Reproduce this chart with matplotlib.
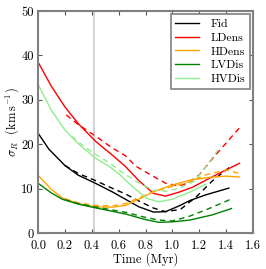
import matplotlib
matplotlib.use('Agg')
import matplotlib.pyplot as plt

plt.rcParams['font.family'] = 'serif'
plt.rcParams['font.serif'] = ['cmr10', 'DejaVu Serif']
plt.rcParams['mathtext.fontset'] = 'cm'
plt.rcParams['axes.unicode_minus'] = False
plt.rcParams['axes.formatter.use_mathtext'] = True

# solid runs
t_fid = [0.0, 0.08, 0.2, 0.3, 0.42, 0.55, 0.65, 0.75, 0.86, 0.95, 1.05, 1.13, 1.25, 1.42]
s_fid = [22.5, 18.9, 15.2, 13.0, 11.3, 9.3, 7.6, 5.9, 4.7, 4.8, 6.1, 7.3, 8.6, 10.1]
t_ld = [0.0, 0.1, 0.2, 0.3, 0.43, 0.55, 0.65, 0.75, 0.86, 0.95, 1.05, 1.15, 1.3, 1.5]
s_ld = [38.5, 33.0, 28.4, 24.6, 20.6, 17.6, 15.0, 11.8, 8.9, 8.3, 9.2, 10.3, 12.7, 15.7]
t_hd = [0.0, 0.1, 0.18, 0.3, 0.42, 0.55, 0.65, 0.75, 0.86, 1.0, 1.13, 1.3, 1.4, 1.5]
s_hd = [13.0, 9.8, 7.9, 6.6, 5.9, 5.8, 6.2, 7.6, 9.3, 10.8, 11.9, 12.6, 12.8, 12.6]
t_lv = [0.0, 0.1, 0.18, 0.3, 0.42, 0.55, 0.66, 0.8, 0.9, 1.0, 1.13, 1.3, 1.44]
s_lv = [11.2, 9.0, 7.6, 6.5, 5.7, 4.9, 4.2, 3.0, 2.4, 2.5, 2.9, 4.1, 5.5]
t_hv = [0.0, 0.1, 0.2, 0.3, 0.43, 0.53, 0.61, 0.7, 0.81, 0.9, 1.0, 1.13, 1.25]
s_hv = [33.5, 27.6, 23.2, 20.1, 16.8, 15.0, 13.1, 10.5, 7.8, 7.0, 7.6, 9.2, 11.0]

# dashed runs
td_fid = [0.2, 0.3, 0.42, 0.55, 0.65, 0.75, 0.86, 0.95, 1.06, 1.18, 1.3, 1.43]
sd_fid = [15.2, 13.4, 11.9, 10.1, 8.8, 7.2, 5.6, 4.8, 5.3, 8.2, 11.8, 14.9]
td_ld = [0.21, 0.3, 0.43, 0.55, 0.65, 0.73, 0.85, 0.95, 1.05, 1.12, 1.2, 1.3, 1.5]
sd_ld = [26.6, 24.4, 21.8, 19.2, 17.4, 15.0, 12.9, 11.2, 10.6, 11.3, 13.1, 16.8, 23.7]
td_hd = [0.2, 0.3, 0.42, 0.55, 0.65, 0.75, 0.86, 1.0, 1.1, 1.25, 1.4, 1.5]
sd_hd = [7.7, 6.8, 6.2, 6.1, 6.6, 7.9, 9.3, 10.5, 11.2, 13.1, 14.2, 13.4]
td_lv = [0.2, 0.3, 0.42, 0.55, 0.66, 0.8, 0.9, 1.0, 1.13, 1.25, 1.45]
sd_lv = [7.5, 6.6, 5.9, 5.2, 4.6, 3.5, 2.9, 2.7, 3.8, 5.2, 7.8]
td_hv = [0.25, 0.35, 0.43, 0.53, 0.61, 0.73, 0.86, 0.95, 1.05, 1.16, 1.26, 1.36]
sd_hv = [21.8, 19.3, 17.7, 15.8, 14.0, 11.6, 9.6, 9.4, 10.0, 11.6, 15.3, 19.6]

t_mark = 0.42

fig = plt.figure(figsize=(2.66, 2.69), dpi=100)
ax = fig.add_axes([0.143, 0.134, 0.808, 0.825])

ax.axvline(t_mark, color='#cccccc', lw=1.2, zorder=0)

runs = [('Fid', 'black', t_fid, s_fid, td_fid, sd_fid),
        ('LDens', 'red', t_ld, s_ld, td_ld, sd_ld),
        ('HDens', 'orange', t_hd, s_hd, td_hd, sd_hd),
        ('LVDis', 'green', t_lv, s_lv, td_lv, sd_lv),
        ('HVDis', 'lightgreen', t_hv, s_hv, td_hv, sd_hv)]
for name, c, t, s, td, sd in runs:
    ax.plot(t, s, color=c, lw=1.0, label=name)
    ax.plot(td, sd, color=c, lw=1.0, ls=(0, (4, 3)))

ax.set_xlim(0, 1.6)
ax.set_ylim(0, 50)
ax.set_xticks([0.0, 0.2, 0.4, 0.6, 0.8, 1.0, 1.2, 1.4, 1.6])
ax.set_xticklabels(['0.0', '0.2', '0.4', '0.6', '0.8', '1.0', '1.2', '1.4', '1.6'])
ax.set_yticks([0, 10, 20, 30, 40, 50])
ax.set_yticklabels(['0', '10', '20', '30', '40', '50'], va='center_baseline')
ax.tick_params(direction='in', top=True, right=True, labelsize=9, length=3, color='#555555')
ax.tick_params(axis='x', pad=5)
ax.tick_params(axis='y', pad=3)
for sp in ax.spines.values():
    sp.set_color('#808080')
    sp.set_linewidth(1.5)

ax.set_xlabel('Time (Myr)', fontsize=9, labelpad=0)
ax.set_ylabel(r'$\sigma_R$  (km$\,$s$^{-1}$)', fontsize=9, labelpad=0)

leg = ax.legend(loc='upper right', fontsize=8.5, fancybox=False, framealpha=1,
                edgecolor='#808080', handlelength=2.0, handletextpad=1.0,
                borderaxespad=0.25, labelspacing=0.3, borderpad=0.4)
leg.get_frame().set_linewidth(1.2)

fig.savefig('out.png', dpi=100)
